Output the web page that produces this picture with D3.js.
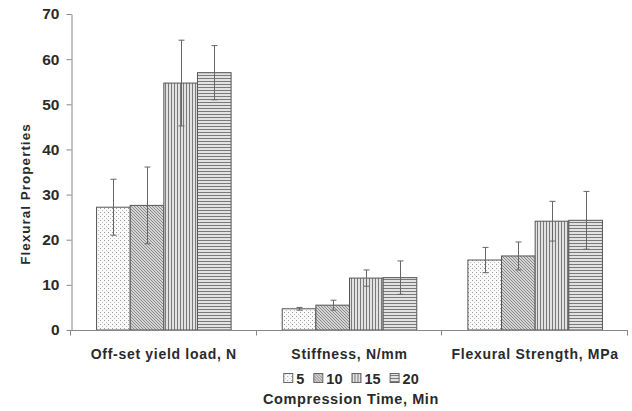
<!DOCTYPE html>
<html>
<head>
<meta charset="utf-8">
<script src="https://cdn.jsdelivr.net/npm/d3@7.9.0/dist/d3.min.js"></script>
<style>
  body { margin: 0; background: #fff; }
  svg { display: block; }
  text { font-family: "Liberation Sans", Arial, sans-serif; font-weight: bold; fill: #2a2a2a; }
</style>
</head>
<body>
<svg width="632" height="411"></svg>
<script>
const categories = ['Off-set yield load, N', 'Stiffness, N/mm', 'Flexural Strength, MPa'];
const seriesNames = ['5', '10', '15', '20'];
const values5 = [27.2, 4.7, 15.5];
const values10 = [27.6, 5.5, 16.4];
const values15 = [54.7, 11.5, 24.1];
const values20 = [57.0, 11.6, 24.3];
const errors5 = [6.2, 0.3, 2.8];
const errors10 = [8.5, 1.1, 3.1];
const errors15 = [9.5, 1.8, 4.4];
const errors20 = [6.0, 3.7, 6.4];
const yTicks = [0, 10, 20, 30, 40, 50, 60, 70];

const values = [values5, values10, values15, values20];
const errors = [errors5, errors10, errors15, errors20];

let svg = d3.select('svg');
let defs = svg.append('defs');

// fill patterns, one per series
let p0 = defs.append('pattern').attr('id', 'pat0').attr('patternUnits', 'userSpaceOnUse')
  .attr('width', 4).attr('height', 4);
p0.append('rect').attr('width', 4).attr('height', 4).attr('fill', '#fafafa');
p0.append('rect').attr('x', 0).attr('y', 0).attr('width', 1).attr('height', 1).attr('fill', '#999');
p0.append('rect').attr('x', 2).attr('y', 2).attr('width', 1).attr('height', 1).attr('fill', '#bbb');

let p1 = defs.append('pattern').attr('id', 'pat1').attr('patternUnits', 'userSpaceOnUse')
  .attr('width', 3).attr('height', 3);
p1.append('rect').attr('width', 3).attr('height', 3).attr('fill', '#d4d4d4');
[[0, 0], [1, 1], [2, 2]].forEach(([px, py]) => {
  p1.append('rect').attr('x', px).attr('y', py).attr('width', 1).attr('height', 1).attr('fill', '#8a8a8a');
});

let p2 = defs.append('pattern').attr('id', 'pat2').attr('patternUnits', 'userSpaceOnUse')
  .attr('width', 3).attr('height', 3);
p2.append('rect').attr('width', 3).attr('height', 3).attr('fill', '#e2e2e2');
p2.append('rect').attr('x', 0).attr('width', 1).attr('height', 3).attr('fill', '#7a7a7a');

let p3 = defs.append('pattern').attr('id', 'pat3').attr('patternUnits', 'userSpaceOnUse')
  .attr('width', 3).attr('height', 3);
p3.append('rect').attr('width', 3).attr('height', 3).attr('fill', '#e2e2e2');
p3.append('rect').attr('y', 0).attr('width', 3).attr('height', 1).attr('fill', '#7a7a7a');

let x0 = d3.scaleBand().domain(categories).range([71, 628]).padding(0);
let x1 = d3.scaleBand().domain(seriesNames).range([0, x0.bandwidth()]).paddingInner(0).paddingOuter(0.76);
let y = d3.scaleLinear().domain([0, 70]).range([330, 14]);

// bars
seriesNames.forEach((s, si) => {
  categories.forEach((c, ci) => {
    svg.append('rect')
      .attr('x', x0(c) + x1(s))
      .attr('y', y(values[si][ci]))
      .attr('width', x1.bandwidth())
      .attr('height', y(0) - y(values[si][ci]))
      .attr('fill', `url(#pat${si})`)
      .attr('stroke', '#555')
      .attr('stroke-width', 1);
  });
});

// error bars
seriesNames.forEach((s, si) => {
  categories.forEach((c, ci) => {
    let cx = Math.round(x0(c) + x1(s) + x1.bandwidth() / 2) + 0.5;
    let hi = y(values[si][ci] + errors[si][ci]);
    let lo = y(values[si][ci] - errors[si][ci]);
    let g = svg.append('g').attr('stroke', '#666').attr('stroke-width', 1);
    g.append('line').attr('x1', cx).attr('x2', cx).attr('y1', hi).attr('y2', lo);
    g.append('line').attr('x1', cx - 3).attr('x2', cx + 3).attr('y1', hi).attr('y2', hi);
    g.append('line').attr('x1', cx - 3).attr('x2', cx + 3).attr('y1', lo).attr('y2', lo);
  });
});

// y axis
let yAxis = svg.append('g').attr('transform', 'translate(71.5,0)')
  .call(d3.axisLeft(y).tickValues(yTicks).tickSize(5).tickPadding(7).tickSizeOuter(0));
yAxis.selectAll('line, path').attr('stroke', '#888');
yAxis.selectAll('text').attr('font-size', 15.5).attr('fill', '#2a2a2a')
  .style('font-family', '"Liberation Sans", Arial, sans-serif').style('font-weight', 'bold');

// x axis
let xAxis = svg.append('g').attr('transform', 'translate(0,330.5)');
xAxis.append('line').attr('x1', 71).attr('x2', 628).attr('stroke', '#888');
let bounds = categories.map(c => x0(c)).concat([x0.range()[1]]);
bounds.forEach(b => {
  xAxis.append('line').attr('x1', Math.round(b) - 0.5).attr('x2', Math.round(b) - 0.5)
    .attr('y1', 0).attr('y2', 5).attr('stroke', '#888');
});

categories.forEach(c => {
  svg.append('text')
    .attr('x', x0(c) + x0.bandwidth() / 2)
    .attr('y', 359)
    .attr('text-anchor', 'middle')
    .attr('font-size', 14)
    .attr('letter-spacing', 0.7)
    .text(c);
});

// y title
svg.append('text')
  .attr('transform', 'translate(30,194) rotate(-90)')
  .attr('text-anchor', 'middle')
  .attr('font-size', 13.5)
  .attr('letter-spacing', 1)
  .text('Flexural Properties');

// legend
let legend = svg.append('g');
let cursor = 0;
seriesNames.forEach((s, si) => {
  let item = legend.append('g').attr('transform', `translate(${cursor},0)`);
  item.append('rect').attr('x', 0.5).attr('y', -10.5).attr('width', 9).attr('height', 9)
    .attr('fill', `url(#pat${si})`).attr('stroke', '#666');
  let t = item.append('text').attr('x', 13).attr('y', 0).attr('font-size', 14.5).text(s);
  cursor += 13 + t.node().getComputedTextLength() + 9;
});
let legendWidth = cursor - 9;
legend.attr('transform', `translate(${351 - legendWidth / 2},384)`);

svg.append('text')
  .attr('x', 351)
  .attr('y', 404)
  .attr('text-anchor', 'middle')
  .attr('font-size', 14.5)
  .attr('letter-spacing', 0.6)
  .text('Compression Time, Min');
</script>
</body>
</html>
